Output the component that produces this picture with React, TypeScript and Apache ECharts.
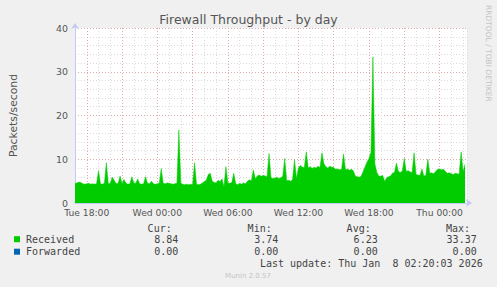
import React, { useEffect, useRef } from 'react';
import * as echarts from 'echarts';

// x values are hours counted from Tue 00:00; one sample every 10 minutes
const START_HOUR = 17;
const STEP_MIN = 10;
const END_HOUR = 17 + 400 / 12;

const received = [
  4.5, 4.6, 4.8, 4.7, 4.4, 4.3, 4.4, 4.5, 4.3, 4.4, 4.3, 4.4, 7.4, 4.4, 4.3, 4.5,
  9.2, 4.4, 4.5, 5.9, 5.2, 4.4, 4.5, 6.2, 4.4, 5.4, 4.5, 4.3, 4.4, 6.0, 4.6, 4.5,
  5.5, 4.4, 4.3, 4.4, 6.0, 4.5, 4.4, 5.0, 4.4, 4.3, 4.4, 4.5, 7.9, 4.5, 4.4, 4.6,
  4.5, 4.4, 4.3, 4.4, 4.5, 16.7, 4.5, 4.3, 4.2, 4.3, 4.2, 4.3, 4.2, 9.2, 4.3, 4.2,
  4.3, 4.6, 4.9, 5.2, 6.5, 6.8, 5.0, 4.7, 4.6, 5.2, 4.9, 5.5, 3.74, 8.3, 4.6, 4.5,
  4.7, 6.8, 4.4, 4.2, 4.5, 4.3, 4.6, 4.4, 5.0, 5.3, 5.1, 7.6, 5.5, 6.2, 6.4, 6.1,
  6.3, 6.2, 6.0, 11.3, 5.8, 5.6, 5.7, 5.9, 5.6, 5.8, 6.1, 10.2, 5.1, 5.2, 5.0, 5.3,
  9.9, 5.6, 8.0, 8.6, 8.2, 8.1, 11.7, 8.0, 8.3, 7.9, 8.2, 8.0, 8.4, 8.1, 11.5, 9.0,
  8.3, 8.0, 8.4, 8.2, 8.1, 7.7, 7.8, 7.6, 7.7, 11.2, 7.6, 7.8, 7.5, 7.7, 7.4, 6.2,
  6.0, 5.9, 6.1, 7.2, 8.3, 9.4, 10.2, 11.6, 33.37, 9.0, 7.0, 6.2, 6.1, 6.3, 4.9, 5.8,
  6.0, 6.2, 6.8, 7.0, 9.1, 7.2, 7.0, 7.3, 10.2, 7.2, 7.4, 7.1, 7.0, 11.5, 6.5, 6.4,
  6.3, 7.8, 6.2, 6.3, 10.0, 6.8, 6.9, 6.7, 7.2, 7.7, 7.8, 7.6, 7.7, 7.2, 6.8, 6.9,
  6.7, 6.5, 6.8, 6.7, 6.6, 11.7, 7.2, 8.84,
];

const majorXTicks = [18, 21, 24, 27, 30, 33, 36, 39, 42, 45, 48];
const labelHours = [18, 24, 30, 36, 42, 48];
const dayNames = ['Tue', 'Wed', 'Thu'];

const seriesNames = ['Received', 'Forwarded'];
const seriesColors = ['#00CC00', '#0066B3'];
const statHeaders = ['Cur:', 'Min:', 'Avg:', 'Max:'];
const curVals = ['8.84', '0.00'];
const minVals = ['3.74', '0.00'];
const avgVals = ['6.23', '0.00'];
const maxVals = ['33.37', '0.00'];
const lastUpdate = 'Last update: Thu Jan  8 02:20:03 2026';

const SANS = '"DejaVu Sans", sans-serif';
const MONO = '"DejaVu Sans Mono", monospace';

function txt(text: string, x: number, y: number, font: string, fill: string, align: string, extra: any = {}) {
  return {
    type: 'text',
    x,
    y,
    silent: true,
    ...extra,
    style: {
      text,
      font,
      fill,
      align,
      verticalAlign: 'middle',
      textAlign: align,
      textVerticalAlign: 'middle',
    },
  };
}

export default function App() {
  const ref = useRef<HTMLDivElement>(null);

  useEffect(() => {
    if (!ref.current) return;
    const chart = echarts.init(ref.current, null, { renderer: 'svg' });

    const data = received.map((v, i) => [START_HOUR + (i * STEP_MIN) / 60, v]);

    const headerRight = [171.7, 271.7, 370.7, 470];
    const valueRight = [178.3, 278.3, 377.7, 476.7];
    const rowsY = [239, 251.5];
    const stats = [curVals, minVals, avgVals, maxVals];

    const graphics: any[] = [];
    graphics.push(txt('Firewall Throughput - by day', 248.5, 19, `12.5px ${SANS}`, '#555555', 'center'));
    graphics.push(
      txt('RRDTOOL / TOBI OETIKER', 488, 5, `7.5px ${SANS}`, '#c4c4c4', 'left', { rotation: -Math.PI / 2 })
    );
    statHeaders.forEach((h, k) => {
      graphics.push(txt(h, headerRight[k], 228, `10px ${MONO}`, '#444444', 'right'));
    });
    seriesNames.forEach((name, r) => {
      graphics.push({
        type: 'rect',
        silent: true,
        shape: { x: 14, y: rowsY[r] - 2.8, width: 6, height: 6 },
        style: { fill: seriesColors[r] },
      });
      graphics.push(txt(name, 26, rowsY[r], `10px ${MONO}`, '#444444', 'left'));
      stats.forEach((arr, k) => {
        graphics.push(txt(arr[r], valueRight[k], rowsY[r], `10px ${MONO}`, '#444444', 'right'));
      });
    });
    graphics.push(txt(lastUpdate, 482.7, 263.7, `10px ${MONO}`, '#444444', 'right'));
    graphics.push(txt('Munin 2.0.57', 248, 276, `7px ${SANS}`, '#c4c4c4', 'center'));

    const pad = (n: number) => (n < 10 ? '0' + n : '' + n);

    const axisBlue = '#c4c8f4';
    const minorGrid = '#dcdcdc';
    const majorGrid = 'rgba(226,150,150,0.7)';

    chart.setOption({
      animation: false,
      backgroundColor: '#F0F0F0',
      grid: { left: 67, top: 28, width: 400, height: 175, backgroundColor: '#ffffff', show: true, borderWidth: 0 },
      xAxis: {
        type: 'value',
        min: START_HOUR,
        max: END_HOUR,
        interval: 1,
        axisLine: {
          show: true,
          onZero: false,
          lineStyle: { color: axisBlue, width: 1 },
          symbol: ['none', 'arrow'],
          symbolSize: [6, 6],
          symbolOffset: [0, 5],
        },
        axisTick: { show: false },
        splitLine: { show: true, lineStyle: { color: minorGrid, type: [1, 2], width: 1 } },
        axisLabel: {
          fontSize: 9.2,
          fontFamily: SANS,
          color: '#555555',
          margin: 5,
          showMinLabel: true,
          showMaxLabel: true,
          formatter: (v: number) => {
            const h = Math.round(v * 1000) / 1000;
            if (!labelHours.includes(h)) return '';
            return `${dayNames[Math.floor(h / 24)]} ${pad(h % 24)}:00`;
          },
        },
      },
      yAxis: [
        {
          type: 'value',
          min: 0,
          max: 40,
          interval: 2,
          axisLine: {
            show: true,
            lineStyle: { color: axisBlue, width: 1 },
            symbol: ['none', 'arrow'],
            symbolSize: [6, 6],
            symbolOffset: [0, 5],
          },
          axisTick: { show: false },
          axisLabel: { show: false },
          splitLine: { show: true, lineStyle: { color: minorGrid, type: [1, 2], width: 1 } },
        },
        {
          type: 'value',
          min: 0,
          max: 40,
          interval: 10,
          position: 'left',
          axisLine: { show: false },
          axisTick: { show: false },
          axisLabel: { fontSize: 9.4, fontFamily: SANS, color: '#555555', margin: 7 },
          splitLine: { show: true, lineStyle: { color: majorGrid, type: [1, 2], width: 1 } },
          name: 'Packets/second',
          nameLocation: 'middle',
          nameGap: 56,
          nameTextStyle: { fontSize: 10.8, fontFamily: SANS, color: '#555555' },
        },
      ],
      series: [
        {
          name: 'grid',
          type: 'line',
          data: [],
          z: 1,
          silent: true,
          markLine: {
            silent: true,
            z: 1,
            symbol: ['none', 'none'],
            label: { show: false },
            lineStyle: { color: majorGrid, type: [1, 2], width: 1 },
            data: majorXTicks.map((h) => ({ xAxis: h })),
          },
        },
        {
          name: seriesNames[0],
          type: 'line',
          data,
          z: 3,
          showSymbol: false,
          symbol: 'none',
          lineStyle: { color: seriesColors[0], width: 0.5 },
          areaStyle: { color: seriesColors[0], opacity: 1 },
          silent: true,
        },
      ],
      graphic: graphics,
    });

    return () => chart.dispose();
  }, []);

  return <div ref={ref} style={{ width: 497, height: 287, position: 'absolute', left: 0, top: 0 }} />;
}
